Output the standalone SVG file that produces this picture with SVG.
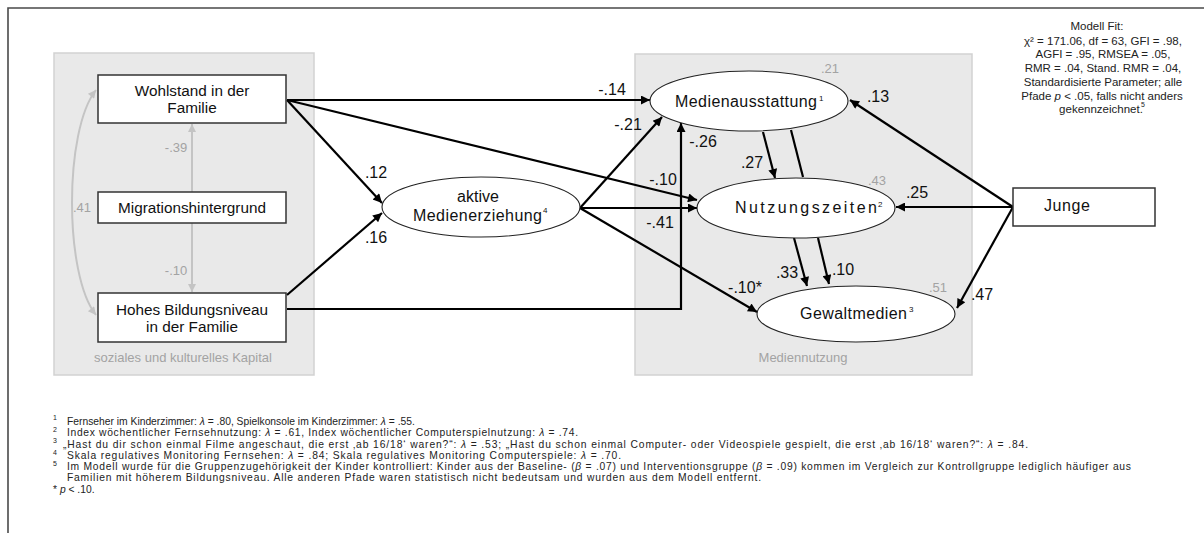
<svg xmlns="http://www.w3.org/2000/svg" width="1204" height="533" viewBox="0 0 1204 533">
<defs>
<marker id="ah" viewBox="0 0 10 10" refX="10" refY="5" markerWidth="11" markerHeight="9" markerUnits="userSpaceOnUse" orient="auto">
<path d="M0,0 L10,5 L0,10 z" fill="#000"/>
</marker>
<marker id="ahg" viewBox="0 0 10 10" refX="10" refY="5" markerWidth="10" markerHeight="8" markerUnits="userSpaceOnUse" orient="auto-start-reverse">
<path d="M0,0 L10,5 L0,10 z" fill="#c4c4c4"/>
</marker>
<style>
text{font-family:"Liberation Sans",Arial,sans-serif;}
.grp{fill:#e9e9e9;stroke:#d2d2d2;stroke-width:1.5;}
.glab{font-size:13px;fill:#a3a3a3;text-anchor:middle;}
.box{fill:#fff;stroke:#333;stroke-width:1.5;}
.ell{fill:#fff;stroke:#222;stroke-width:1.1;}
.nt{font-size:15.3px;fill:#111;text-anchor:middle;}
.et{font-size:16px;fill:#111;}
.sup{font-size:8px;fill:#111;}
.c{fill:none;stroke:#000;stroke-width:2.2;marker-end:url(#ah);}
.cn{fill:none;stroke:#000;stroke-width:2.2;}
.cg{fill:none;stroke:#c4c4c4;stroke-width:2;}
.lab{font-size:16px;fill:#111;text-anchor:middle;}
.labg{font-size:13px;fill:#a3a3a3;text-anchor:middle;}
.fit{font-size:11.5px;fill:#222;text-anchor:middle;}
.fn{font-size:10.3px;fill:#222;}
.fs{font-size:7px;fill:#222;}
.it{font-style:italic;}
</style>
</defs>
<rect width="1204" height="533" fill="#fff"/>
<path d="M8,533 V8 H1204" fill="none" stroke="#4a4a4a" stroke-width="1.6"/>

<g id="group-kapital">
<rect class="grp" x="54" y="53" width="260" height="322"/>
<text class="glab" x="183" y="362">soziales und kulturelles Kapital</text>
</g>
<g id="group-mediennutzung">
<rect class="grp" x="635" y="54" width="337" height="321"/>
<text class="glab" x="803" y="362">Mediennutzung</text>
</g>

<g id="connectors">
<path class="cg" d="M192,192 V124" marker-end="url(#ahg)"/>
<text class="labg" x="176" y="152">-.39</text>
<path class="cg" d="M192,223 V292" marker-end="url(#ahg)"/>
<text class="labg" x="176" y="275">-.10</text>
<path class="cg" d="M96,90 C64,130 64,275 96,315" marker-start="url(#ahg)" marker-end="url(#ahg)"/>
<text class="labg" x="82" y="212">.41</text>

<path class="c" d="M287,100 L650,100"/>
<text class="lab" x="612" y="95">-.14</text>
<path class="c" d="M287,100 L382,203"/>
<text class="lab" x="376" y="178">.12</text>
<path class="c" d="M287,100 L697,200"/>
<text class="lab" x="663" y="185">-.10</text>
<path class="c" d="M287,295 L382,213"/>
<text class="lab" x="376" y="243">.16</text>
<path class="c" d="M287,309 H681 V123"/>
<text class="lab" x="703" y="147">-.26</text>
<path class="c" d="M580,208 L662,117"/>
<text class="lab" x="628" y="130">-.21</text>
<path class="c" d="M580,208 L697,208"/>
<text class="lab" x="660" y="228">-.41</text>
<path class="c" d="M580,208 L757,312"/>
<text class="lab" x="745" y="293">-.10*</text>
<path class="c" d="M763,132 L775,178"/>
<text class="lab" x="752" y="168">.27</text>
<path class="cn" d="M791,130 L803,177"/>
<path class="c" d="M794,238 L807,286"/>
<text class="lab" x="787" y="278">.33</text>
<path class="c" d="M818,238 L829,284"/>
<text class="lab" x="843" y="275">.10</text>
<path class="c" d="M1013,207 L850,100"/>
<text class="lab" x="878" y="102">.13</text>
<path class="c" d="M1013,207 L896,207"/>
<text class="lab" x="917" y="198">.25</text>
<path class="c" d="M1013,207 L957,308"/>
<text class="lab" x="982" y="300">.47</text>
</g>

<g id="node-wohlstand">
<rect class="box" x="98" y="75" width="188" height="48"/>
<text class="nt" x="192" y="96">Wohlstand in der</text>
<text class="nt" x="192" y="113">Familie</text>
</g>
<g id="node-migration">
<rect class="box" x="98" y="192" width="188" height="31"/>
<text class="nt" x="192" y="213">Migrationshintergrund</text>
</g>
<g id="node-bildung">
<rect class="box" x="98" y="293" width="188" height="49"/>
<text class="nt" x="192" y="315">Hohes Bildungsniveau</text>
<text class="nt" x="192" y="332">in der Familie</text>
</g>
<g id="node-medienerziehung">
<ellipse class="ell" cx="481" cy="207" rx="99" ry="30"/>
<text class="et" x="478" y="202" text-anchor="middle">aktive</text>
<text class="et" x="413" y="221" textLength="129">Medienerziehung</text>
<text class="sup" x="543" y="213">4</text>
</g>
<g id="node-medienausstattung">
<ellipse class="ell" cx="749" cy="101" rx="99" ry="30"/>
<text class="et" x="675" y="107" textLength="142">Medienausstattung</text>
<text class="sup" x="819" y="101">1</text>
<text class="glab" x="830" y="73">.21</text>
</g>
<g id="node-nutzungszeiten">
<ellipse class="ell" cx="796" cy="208" rx="99" ry="30"/>
<text class="et" x="735" y="213" textLength="142">Nutzungszeiten</text>
<text class="sup" x="878" y="207">2</text>
<text class="glab" x="877" y="185">.43</text>
</g>
<g id="node-gewaltmedien">
<ellipse class="ell" cx="856" cy="314" rx="99" ry="28"/>
<text class="et" x="800" y="319" textLength="107">Gewaltmedien</text>
<text class="sup" x="909" y="312">3</text>
<text class="glab" x="938" y="292">.51</text>
</g>
<g id="node-junge">
<rect class="box" x="1013" y="188" width="142" height="38"/>
<text class="et" x="1044" y="211" textLength="46">Junge</text>
</g>

<g id="modell-fit">
<text class="fit" x="1097" y="30">Modell Fit:</text>
<text class="fit" x="1103" y="44.5">χ² = 171.06, df = 63, GFI = .98,</text>
<text class="fit" x="1103" y="58">AGFI = .95, RMSEA = .05,</text>
<text class="fit" x="1103" y="72">RMR = .04, Stand. RMR = .04,</text>
<text class="fit" x="1103" y="86">Standardisierte Parameter; alle</text>
<text class="fit" x="1102" y="99.5">Pfade <tspan class="it">p</tspan> &lt; .05, falls nicht anders</text>
<text class="fit" x="1101" y="113">gekennzeichnet.</text>
<text class="fs" x="1141" y="107">5</text>
</g>

<g id="footnotes">
<text class="fs" x="53" y="420">1</text>
<text class="fn" x="67" y="424.5">Fernseher im Kinderzimmer: <tspan class="it">λ</tspan> = .80, Spielkonsole im Kinderzimmer: <tspan class="it">λ</tspan> = .55.</text>
<text class="fs" x="53" y="431.5">2</text>
<text class="fn" x="67" y="436" textLength="511">Index wöchentlicher Fernsehnutzung: <tspan class="it">λ</tspan> = .61, Index wöchentlicher Computerspielnutzung: <tspan class="it">λ</tspan> = .74.</text>
<text class="fs" x="53" y="443">3</text>
<text class="fn" x="63" y="447.5" textLength="965">„Hast du dir schon einmal Filme angeschaut, die erst ‚ab 16/18‘ waren?“: <tspan class="it">λ</tspan> = .53; „Hast du schon einmal Computer- oder Videospiele gespielt, die erst ‚ab 16/18‘ waren?“: <tspan class="it">λ</tspan> = .84.</text>
<text class="fs" x="53" y="454.5">4</text>
<text class="fn" x="67" y="459" textLength="554">Skala regulatives Monitoring Fernsehen: <tspan class="it">λ</tspan> = .84; Skala regulatives Monitoring Computerspiele: <tspan class="it">λ</tspan> = .70.</text>
<text class="fs" x="53" y="465.5">5</text>
<text class="fn" x="67" y="470" textLength="1064">Im Modell wurde für die Gruppenzugehörigkeit der Kinder kontrolliert: Kinder aus der Baseline- (<tspan class="it">β</tspan> = .07) und Interventionsgruppe (<tspan class="it">β</tspan> = .09) kommen im Vergleich zur Kontrollgruppe lediglich häufiger aus</text>
<text class="fn" x="67" y="481" textLength="694">Familien mit höherem Bildungsniveau. Alle anderen Pfade waren statistisch nicht bedeutsam und wurden aus dem Modell entfernt.</text>
<text class="fn" x="53" y="492.5">* <tspan class="it">p</tspan> &lt; .10.</text>
</g>
</svg>
